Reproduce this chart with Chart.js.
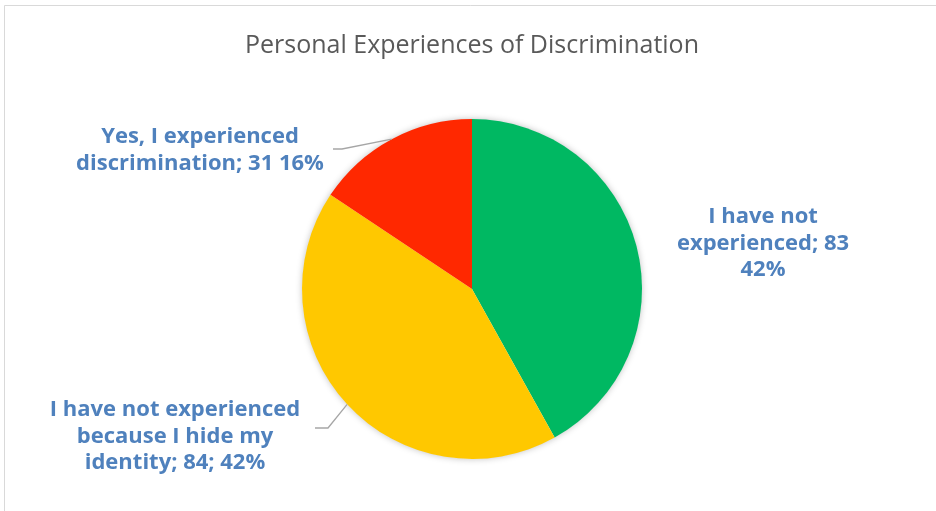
<!DOCTYPE html>
<html>
<head>
<meta charset="utf-8">
<script src="https://cdn.jsdelivr.net/npm/chart.js@4"></script>
<style>
  html, body { margin: 0; padding: 0; background: #fff; }
  #wrap { width: 936px; height: 511px; position: relative; }
</style>
</head>
<body>
<div id="wrap"><canvas id="chart-discrimination" width="936" height="511"></canvas></div>
<script>
// Survey answers, clockwise from 12 o'clock
const categories = [
  'I have not experienced',
  'I have not experienced because I hide my identity',
  'Yes, I experienced discrimination',
]
const counts = [83, 84, 31]
const sliceColors = ['#00B862', '#FFC800', '#FF2800']

// Label text per slice, {v} = count, {p} = share
const labelLines = [
  ['I have not', 'experienced; {v}', '{p}'],
  ['I have not experienced', 'because I hide my', 'identity; {v}; {p}'],
  ['Yes, I experienced', 'discrimination; {v} {p}'],
]

// Where each label sits and how its leader line bends
const labelLayout = [
  { x: 763, y: 223, leader: null },
  { x: 175, y: 416, leader: [[328, 428], [315, 428]] },
  { x: 200, y: 143, leader: [[342, 149], [333, 149]] },
]

const LABEL_FONT = 'bold 22px "Open Sans"'
const LABEL_COLOR = '#4F81BD'
const LINE_HEIGHT = 26.7

const total = counts.reduce((a, b) => a + b, 0)

function fillLine(tpl, i) {
  const pct = Math.round((counts[i] / total) * 100) + '%'
  return tpl.replace('{v}', counts[i]).replace('{p}', pct)
}

const framePlugin = {
  id: 'frame',
  beforeDraw(chart) {
    const ctx = chart.ctx
    ctx.save()
    ctx.fillStyle = '#fff'
    ctx.fillRect(0, 0, chart.width, chart.height)
    ctx.strokeStyle = '#d9d9d9'
    ctx.lineWidth = 1
    ctx.beginPath()
    ctx.moveTo(4.5, chart.height)
    ctx.lineTo(4.5, 5.5)
    ctx.lineTo(chart.width, 5.5)
    ctx.stroke()
    ctx.restore()
  },
}

// soft shadow under the whole pie
const pieShadow = {
  id: 'pieShadow',
  beforeDatasetsDraw(chart) {
    const arc = chart.getDatasetMeta(0).data[0]
    if (!arc) return
    const { x, y, outerRadius } = arc.getProps(['x', 'y', 'outerRadius'], true)
    const ctx = chart.ctx
    ctx.save()
    ctx.shadowColor = 'rgba(0,0,0,0.28)'
    ctx.shadowBlur = 7
    ctx.fillStyle = '#fff'
    ctx.beginPath()
    ctx.arc(x, y, outerRadius - 0.5, 0, Math.PI * 2)
    ctx.fill()
    ctx.restore()
  },
}

const sliceLabels = {
  id: 'sliceLabels',
  afterDatasetsDraw(chart) {
    const ctx = chart.ctx
    const arcs = chart.getDatasetMeta(0).data
    ctx.save()
    arcs.forEach((arc, i) => {
      const lay = labelLayout[i]
      const { x, y, startAngle, endAngle, outerRadius } = arc.getProps(
        ['x', 'y', 'startAngle', 'endAngle', 'outerRadius'],
        true,
      )
      if (lay.leader) {
        const mid = (startAngle + endAngle) / 2
        ctx.strokeStyle = '#A6A6A6'
        ctx.lineWidth = 1.3
        ctx.beginPath()
        ctx.moveTo(x + Math.cos(mid) * outerRadius, y + Math.sin(mid) * outerRadius)
        lay.leader.forEach((p) => ctx.lineTo(p[0], p[1]))
        ctx.stroke()
      }
      ctx.font = LABEL_FONT
      ctx.fillStyle = LABEL_COLOR
      ctx.textAlign = 'center'
      ctx.textBaseline = 'alphabetic'
      labelLines[i].forEach((line, k) => {
        ctx.fillText(fillLine(line, i), lay.x, lay.y + k * LINE_HEIGHT)
      })
    })
    ctx.restore()
  },
}

new Chart(document.getElementById('chart-discrimination'), {
  type: 'pie',
  data: {
    labels: categories,
    datasets: [
      {
        data: counts,
        backgroundColor: sliceColors,
        borderWidth: 0,
        hoverOffset: 0,
      },
    ],
  },
  options: {
    responsive: false,
    animation: false,
    layout: {
      // wide chart area so the title is not squeezed; pie centre lands at x = 472
      padding: { top: 0, left: 10, right: 2, bottom: 52 },
    },
    plugins: {
      legend: { display: false },
      tooltip: { enabled: false },
      title: {
        display: true,
        text: 'Personal Experiences of Discrimination',
        color: '#595959',
        font: { family: '"Open Sans"', size: 25, weight: 'normal', lineHeight: 1.2 },
        padding: { top: 31, bottom: 58 },
      },
    },
  },
  plugins: [framePlugin, pieShadow, sliceLabels],
})
</script>
</body>
</html>
